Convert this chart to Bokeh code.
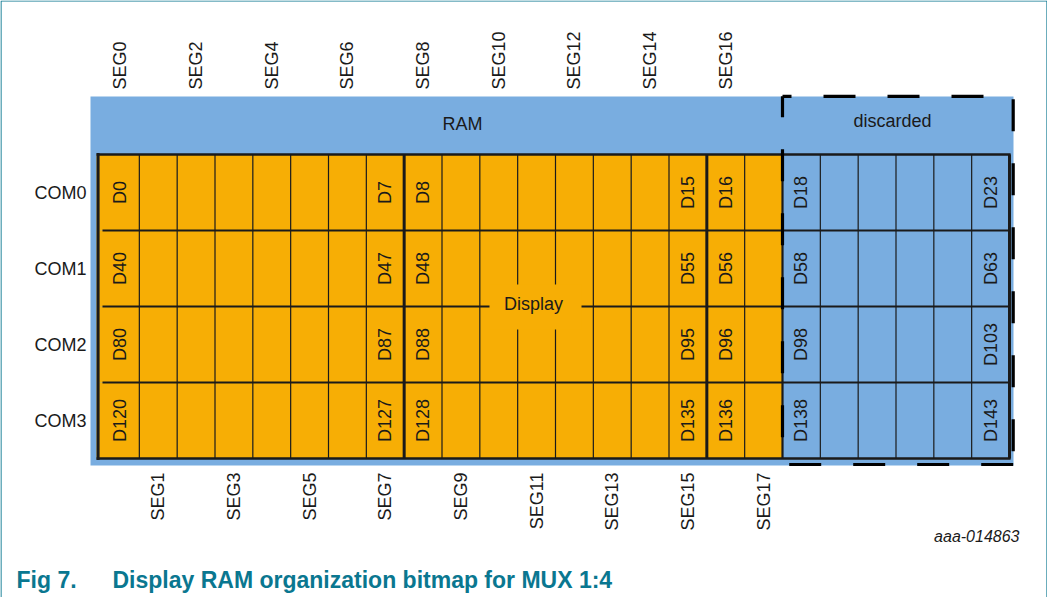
import math
from bokeh.plotting import figure
from bokeh.models import Range1d
from bokeh.core.properties import value
from bokeh.embed import file_html
from bokeh.resources import INLINE

# ---------------- data ----------------
seg_top_labels = ["SEG0", "SEG2", "SEG4", "SEG6", "SEG8", "SEG10", "SEG12", "SEG14", "SEG16"]
seg_top_cols = [0, 2, 4, 6, 8, 10, 12, 14, 16]
seg_bottom_labels = ["SEG1", "SEG3", "SEG5", "SEG7", "SEG9", "SEG11", "SEG13", "SEG15", "SEG17"]
seg_bottom_cols = [1, 3, 5, 7, 9, 11, 13, 15, 17]
com_labels = ["COM0", "COM1", "COM2", "COM3"]
com_rows = [0, 1, 2, 3]
labeled_cols = [0, 7, 8, 15, 16, 18, 23]
cell_labels = [
    ["D0", "D7", "D8", "D15", "D16", "D18", "D23"],
    ["D40", "D47", "D48", "D55", "D56", "D58", "D63"],
    ["D80", "D87", "D88", "D95", "D96", "D98", "D103"],
    ["D120", "D127", "D128", "D135", "D136", "D138", "D143"],
]
n_cols = 24            # RAM columns
n_display_cols = 18    # columns that are displayed (SEG0..SEG17)
n_rows = 4             # COM0..COM3
group_cols = [8, 16]   # thick separators inside display area

# ---------------- layout / style ----------------
ORANGE = "#F7AE05"
BLUE = "#79ADE0"
INK = "#1a1a1a"
TEAL = "#0A7790"
W, H = 1047, 597
COL_W = 908 / 24.0
ROW_H = 76.0
OX, OY = 109.0, 162.0   # reference-pixel origin of the grid


def dx(px):
    return (px - OX) / COL_W


def dy(py):
    return (py - OY) / ROW_H


p = figure(width=W, height=H, output_backend="svg", toolbar_location=None,
           x_range=Range1d(dx(8), dx(8 + W)), y_range=Range1d(dy(8 + H), dy(8)),
           x_axis_location=None, y_axis_location=None, min_border=0,
           outline_line_color=None, background_fill_color="white")
p.grid.visible = False

# outer teal frame (left, top, right)
xs0, xs1 = dx(8.5), dx(8 + W - 0.5)
ys0, ys1 = dy(8.5), dy(8 + H + 5)
p.multi_line(xs=[[xs0, xs0, xs1, xs1]], ys=[[ys1, ys0, ys0, ys1]],
             line_color=TEAL, line_width=1.2)

# RAM background
p.quad(left=[dx(98)], right=[dx(1021)], top=[dy(104)], bottom=[dy(473)],
       fill_color=BLUE, line_color=None)

# cells
lefts, rights, tops, bottoms, colors = [], [], [], [], []
for r in range(n_rows):
    for c in range(n_cols):
        lefts.append(c - (0.13 if c == 0 else 0))
        rights.append(c + 1)
        tops.append(r)
        bottoms.append(r + 1)
        colors.append(ORANGE if c < n_display_cols else BLUE)
p.quad(left=lefts, right=rights, top=tops, bottom=bottoms,
       fill_color=colors, line_color=None)

# thin vertical lines
thin = [c for c in range(1, n_cols) if c not in group_cols and c != n_display_cols]
p.segment(x0=thin, y0=[0] * len(thin), x1=thin, y1=[n_rows] * len(thin),
          line_color=INK, line_width=1.2)
# row lines
rl = list(range(1, n_rows))
p.segment(x0=[dx(110)] * len(rl), y0=rl, x1=[n_cols] * len(rl), y1=rl,
          line_color=INK, line_width=2.2)

# cover behind "Display"
p.quad(left=[dx(497)], right=[dx(589)], top=[dy(292)], bottom=[dy(337)],
       fill_color=ORANGE, line_color=None)

# thick lines
thick_v = group_cols + [n_cols]
p.segment(x0=thick_v, y0=[0] * len(thick_v), x1=thick_v, y1=[n_rows] * len(thick_v),
          line_color=INK, line_width=3)
p.segment(x0=[n_display_cols], y0=[0], x1=[n_display_cols], y1=[n_rows],
          line_color=INK, line_width=2.2)
p.segment(x0=[-0.09], y0=[-0.02], x1=[-0.09], y1=[n_rows + 0.02],
          line_color=INK, line_width=3)
p.segment(x0=[-0.13, -0.13], y0=[0, n_rows], x1=[n_cols + 0.03, n_cols + 0.03], y1=[0, n_rows],
          line_color=INK, line_width=2.6)

# dashed "discarded" box
dl, dr, dt, db = n_display_cols, dx(1020.7), dy(103.8), dy(472)
for xs, ys, off in [([dl, dr], [dt, dt], 23), ([dr, dr], [dt, db], 61),
                    ([dr, dl], [db, db], 0), ([dl, dl], [dt, db], 11)]:
    p.line(x=xs, y=ys, line_color="black", line_width=3.2,
           line_dash="32 32", line_dash_offset=off)

FONT = value("Liberation Sans")

# SEG labels on top
p.text(x=[c + 0.5 for c in seg_top_cols], y=[dy(97)] * len(seg_top_cols),
       text=seg_top_labels, angle=math.pi / 2, text_align="left",
       text_baseline="middle", text_font=FONT, text_font_size="18px", text_color=INK)
# SEG labels at the bottom
p.text(x=[c + 0.5 for c in seg_bottom_cols], y=[dy(480)] * len(seg_bottom_cols),
       text=seg_bottom_labels, angle=math.pi / 2, text_align="right",
       text_baseline="middle", text_font=FONT, text_font_size="18px", text_color=INK)
# COM labels
p.text(x=[dx(94)] * n_rows, y=[r + 0.5 for r in com_rows], text=com_labels,
       text_align="right", text_baseline="middle", text_font=FONT,
       text_font_size="18px", text_color=INK)
# cell labels
cx, cy, ct = [], [], []
for r in range(n_rows):
    for c, t in zip(labeled_cols, cell_labels[r]):
        cx.append(c + 0.5)
        cy.append(r + 0.5)
        ct.append(t)
p.text(x=cx, y=cy, text=ct, angle=math.pi / 2, text_align="center",
       text_baseline="middle", text_font=FONT, text_font_size="18px", text_color=INK)

# region labels
p.text(x=[dx(470), dx(900), dx(541)], y=[dy(131), dy(128), dy(311)],
       text=["RAM", "discarded", "Display"], text_align="center",
       text_baseline="middle", text_font=FONT, text_font_size="18px", text_color=INK)

p.text(x=[dx(1027)], y=[dy(544)], text=["aaa-014863"], text_align="right",
       text_baseline="middle", text_font=FONT, text_font_size="16px",
       text_font_style="italic", text_color=INK)

# caption
p.text(x=[dx(24), dx(120)], y=[dy(587), dy(587)],
       text=["Fig 7.", "Display RAM organization bitmap for MUX 1:4"],
       text_align="left", text_baseline="middle", text_font=FONT,
       text_font_size="23px", text_font_style="bold", text_color=TEAL)

open("out.html", "w").write(file_html(p, INLINE))
